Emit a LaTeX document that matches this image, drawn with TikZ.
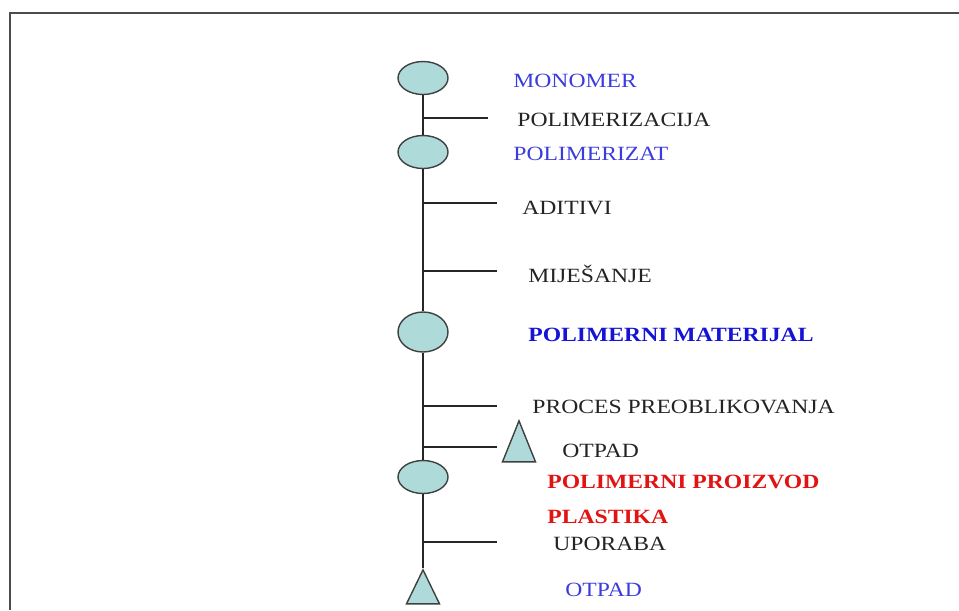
\documentclass[tikz,border=0pt]{standalone}
\usepackage{fontspec}
\setmainfont[FakeStretch=1.17]{Liberation Serif}
\usetikzlibrary{shapes.geometric}
\definecolor{cellfill}{RGB}{174,218,218}
\definecolor{lblblue}{RGB}{60,60,220}
\definecolor{lbldeep}{RGB}{20,20,210}
\definecolor{lblred}{RGB}{225,20,20}
\definecolor{lblgray}{RGB}{35,35,35}
\begin{document}
\begin{tikzpicture}[x=0.02cm,y=-0.02cm,
  stage/.style={ellipse,draw=black!75,line width=0.8pt,fill=cellfill,minimum width=1cm,minimum height=0.66cm,inner sep=0},
  waste/.style={isosceles triangle,isosceles triangle stretches,shape border rotate=90,draw=black!75,line width=0.8pt,fill=cellfill,inner sep=0,anchor=apex},
  lbl/.style={anchor=base west,inner sep=0,font=\fontsize{11.5}{13}\selectfont,text=lblgray},
  bold lbl/.style={lbl,font=\fontsize{11.5}{13}\selectfont\bfseries}]
\useasboundingbox (0,0) rectangle (959,610);
\draw[line width=1.3pt,black!70] (959,13) -- (10,13) -- (10,610);

\node [stage] (mono) at (423,78) {};
\node [stage] (polz) at (423,152) {};
\node [stage,minimum height=0.8cm] (pmat) at (423,332) {};
\node [stage] (pproiz) at (423,477) {};
\node [waste,minimum width=0.66cm,minimum height=0.68cm] (endwaste) at (423,568) {};
\node [waste,minimum width=0.66cm,minimum height=0.82cm] (procwaste) at (519,419) {};

\draw [black!85,line width=0.7pt] (mono) -- (polz) -- (pmat) -- (pproiz) -- (endwaste);

\foreach \n/\y/\e in {a/118/488,b/203/497,c/271/497,d/406/497,e/447/497,f/542/497}{
  \coordinate (s\n) at (423,\y);
  \coordinate (e\n) at (\e,\y);
  \draw [black!85,line width=0.7pt] (s\n) -- (e\n);
}

\node [lbl,text=lblblue] (tmono) at (513,87.5) {MONOMER};
\node [lbl] (tpolim) at (517,126.5) {POLIMERIZACIJA};
\node [lbl,text=lblblue] (tpolz) at (513,160.5) {POLIMERIZAT};
\node [lbl] (tadit) at (522,214.5) {ADITIVI};
\node [lbl] (tmij) at (528,282.5) {MIJEŠANJE};
\node [bold lbl,text=lbldeep] (tpmat) at (528,341.5) {POLIMERNI MATERIJAL};
\node [lbl] (tproc) at (532,413.5) {PROCES PREOBLIKOVANJA};
\node [lbl] (totp) at (562,457.5) {OTPAD};
\node [bold lbl,text=lblred] (tproiz) at (547,488.5) {POLIMERNI PROIZVOD};
\node [bold lbl,text=lblred] (tplast) at (547,523.5) {PLASTIKA};
\node [lbl] (tupor) at (553,550.5) {UPORABA};
\node [lbl,text=lblblue] (totp2) at (565,596.5) {OTPAD};
\end{tikzpicture}
\end{document}
